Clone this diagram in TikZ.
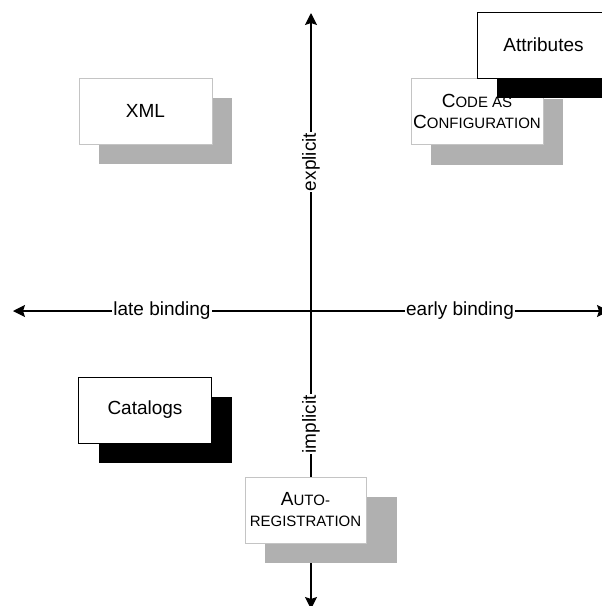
\documentclass[tikz,border=0pt]{standalone}
\usepackage{fontspec}
\setmainfont{Liberation Sans}
\usetikzlibrary{arrows.meta,shadows}
\definecolor{shadowgrey}{HTML}{B0B0B0}
\definecolor{edgegrey}{HTML}{C4C4C4}
\newcommand{\smallcaps}[2]{#1{\fontsize{15}{21}\selectfont #2}}
\tikzset{
  qbox/.style={
    rectangle, fill=white, line width=0.8pt,
    minimum width=133pt, minimum height=66pt, inner sep=0pt,
    font=\fontsize{19}{21}\selectfont, align=center
  },
  qboxgrey/.style={qbox, draw=edgegrey,
    general shadow={fill=shadowgrey, shadow xshift=20pt, shadow yshift=-20pt}},
  qboxblack/.style={qbox, draw=black,
    general shadow={fill=black, shadow xshift=20pt, shadow yshift=-20pt}},
  qaxis/.style={-{Stealth[length=12pt,width=12pt,inset=2pt]}, line width=1.2pt},
  qaxislabel/.style={fill=white, inner sep=1pt, font=\fontsize{19}{21}\selectfont}
}

\begin{document}
\begin{tikzpicture}[x=1pt,y=-1pt]
\useasboundingbox (0,0) rectangle (602,606);
% axes
\coordinate (origin) at (311,311);
\coordinate (west) at (13,311);
\coordinate (east) at (609,311);
\coordinate (north) at (311,13);
\coordinate (south) at (311,609);
\draw[qaxis] (origin) -- node[qaxislabel] {late binding} (west);
\draw[qaxis] (origin) -- node[qaxislabel] {early binding} (east);
\draw[qaxis] (origin) -- node[qaxislabel,rotate=90] {explicit} (north);
\draw[qaxis] (origin) -- node[qaxislabel,rotate=90,pos=0.38] {implicit} (south);

% quadrants
\node[qboxgrey] (xml) at (145.5,111) {XML};
\node[qboxblack] (catalogs) at (145,410) {Catalogs};
\node[qboxgrey,minimum width=132pt] (codeconf) at (477,111.5)
  {\smallcaps{C}{ODE AS}\\\smallcaps{C}{ONFIGURATION}};
\node[qboxblack] (attributes) at (543.5,45) {Attributes};
\fill[shadowgrey] (265,497) rectangle (397,563);
\node[qbox,draw=edgegrey,minimum width=121pt] (autoreg) at (305.5,510)
  {\smallcaps{A}{UTO-}\\{\fontsize{15}{21}\selectfont REGISTRATION}};
\end{tikzpicture}
\end{document}
